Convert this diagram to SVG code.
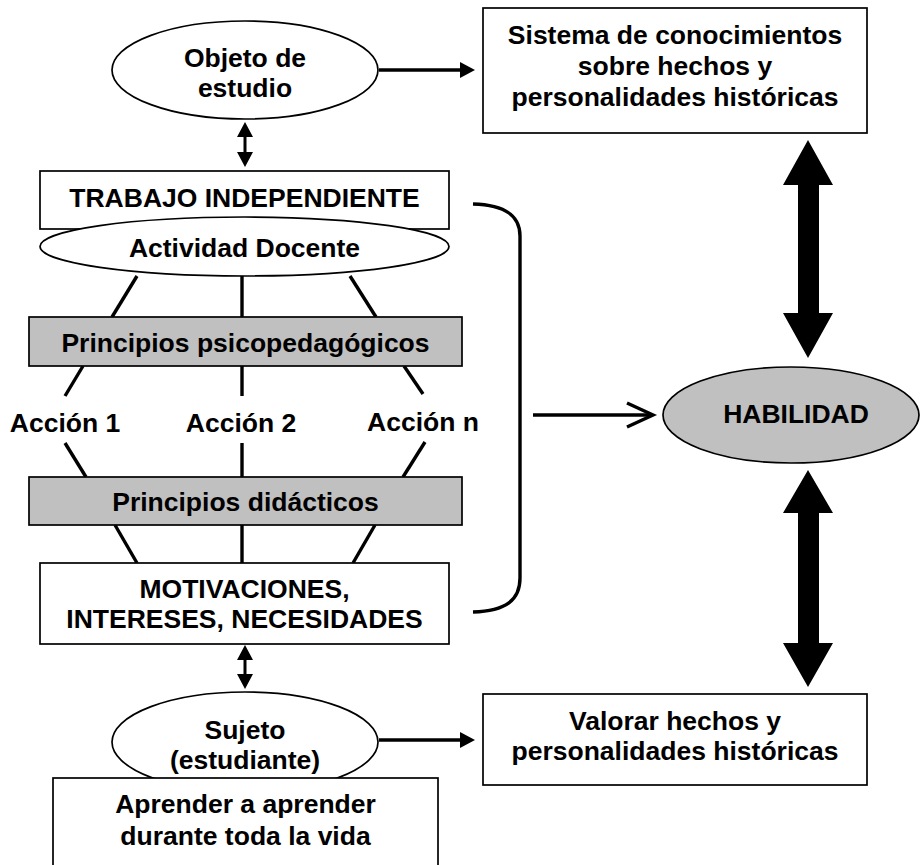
<svg xmlns="http://www.w3.org/2000/svg" width="921" height="865" viewBox="0 0 921 865">
<style>
text{font-family:"Liberation Sans",Arial,sans-serif;font-weight:bold;font-size:26.5px;fill:#000;text-anchor:middle}
.box{fill:#fff;stroke:#000;stroke-width:1.7}
.gray{fill:#c0c0c0;stroke:#000;stroke-width:1.7}
.ell{fill:#fff;stroke:#000;stroke-width:1.7}
.ln{stroke:#000;stroke-width:3.4;fill:none}
.thin{stroke:#000;stroke-width:3;fill:none}
</style>
<defs>
<marker id="tri" markerUnits="userSpaceOnUse" markerWidth="16" markerHeight="16" refX="1" refY="8" orient="auto-start-reverse">
<path d="M0,0 L15,8 L0,16 z" fill="#000"/>
</marker>
</defs>
<rect width="921" height="865" fill="#fff"/>

<g id="connectors">
<line class="ln" x1="379" y1="70" x2="461" y2="70" marker-end="url(#tri)"/>
<line class="thin" x1="245" y1="136" x2="245" y2="153" marker-start="url(#tri)" marker-end="url(#tri)"/>
<line class="ln" x1="137" y1="276" x2="112" y2="317"/>
<line class="ln" x1="242" y1="276" x2="242" y2="317"/>
<line class="ln" x1="350" y1="276" x2="376" y2="317"/>
<line class="ln" x1="83" y1="366" x2="65" y2="396"/>
<line class="ln" x1="242" y1="366" x2="242" y2="396"/>
<line class="ln" x1="404" y1="366" x2="423" y2="394"/>
<line class="ln" x1="65" y1="443" x2="86" y2="477"/>
<line class="ln" x1="242" y1="443" x2="242" y2="477"/>
<line class="ln" x1="425" y1="442" x2="403" y2="477"/>
<line class="ln" x1="115" y1="525" x2="137" y2="563"/>
<line class="ln" x1="242" y1="525" x2="242" y2="563"/>
<line class="ln" x1="375" y1="525" x2="353" y2="563"/>
<path class="ln" d="M473,204 C506,205 520,216 520,236 L520,578 C520,600 506,611 473,612"/>
<line class="ln" x1="533" y1="415" x2="650" y2="415"/>
<path d="M627,403 L653,415 L627,427" fill="none" stroke="#000" stroke-width="3.4" stroke-linejoin="miter"/>
<polygon points="808,140 833,185 819,185 819,313 833,313 808,358 783,313 798,313 798,185 783,185" fill="#000"/>
<polygon points="808,470 833,513 819,513 819,643 833,643 808,687 783,643 798,643 798,513 783,513" fill="#000"/>
<line class="thin" x1="245" y1="659" x2="245" y2="675" marker-start="url(#tri)" marker-end="url(#tri)"/>
<line class="ln" x1="379" y1="740" x2="461" y2="740" marker-end="url(#tri)"/>
</g>

<g id="objeto">
<ellipse class="ell" cx="245" cy="70" rx="133" ry="49"/>
<text x="245" y="67">Objeto de</text>
<text x="245" y="97">estudio</text>
</g>

<g id="sistema">
<rect class="box" x="483" y="8" width="384" height="125"/>
<text x="675" y="44">Sistema de conocimientos</text>
<text x="675" y="75">sobre hechos y</text>
<text x="675" y="106">personalidades históricas</text>
</g>

<g id="trabajo">
<rect class="box" x="40" y="171" width="409" height="58"/>
<text x="244.5" y="207">TRABAJO INDEPENDIENTE</text>
</g>

<g id="actividad">
<ellipse class="ell" cx="244.5" cy="246.5" rx="204.5" ry="29.5"/>
<text x="244.5" y="257">Actividad Docente</text>
</g>

<g id="psico">
<rect class="gray" x="29" y="317" width="433" height="49"/>
<text x="245.5" y="352">Principios psicopedagógicos</text>
</g>

<g id="accion1"><text x="65" y="432">Acción 1</text></g>
<g id="accion2"><text x="241" y="432">Acción 2</text></g>
<g id="accionn"><text x="423" y="431">Acción n</text></g>

<g id="didacticos">
<rect class="gray" x="29" y="477" width="433" height="48"/>
<text x="245.5" y="511">Principios didácticos</text>
</g>

<g id="motivaciones">
<rect class="box" x="40" y="563" width="409" height="81"/>
<text x="244.5" y="598">MOTIVACIONES,</text>
<text x="244.5" y="628">INTERESES, NECESIDADES</text>
</g>

<g id="habilidad">
<ellipse class="gray" cx="791" cy="415" rx="128" ry="48"/>
<text x="796" y="423">HABILIDAD</text>
</g>

<g id="sujeto">
<ellipse class="ell" cx="245" cy="742" rx="133" ry="50"/>
<text x="245" y="739">Sujeto</text>
<text x="245" y="769">(estudiante)</text>
</g>

<g id="aprender">
<rect class="box" x="53" y="778" width="385" height="100"/>
<text x="245.5" y="813">Aprender a aprender</text>
<text x="245.5" y="845">durante toda la vida</text>
</g>

<g id="valorar">
<rect class="box" x="483" y="694" width="384" height="91"/>
<text x="675" y="730">Valorar hechos y</text>
<text x="675" y="760">personalidades históricas</text>
</g>
</svg>
